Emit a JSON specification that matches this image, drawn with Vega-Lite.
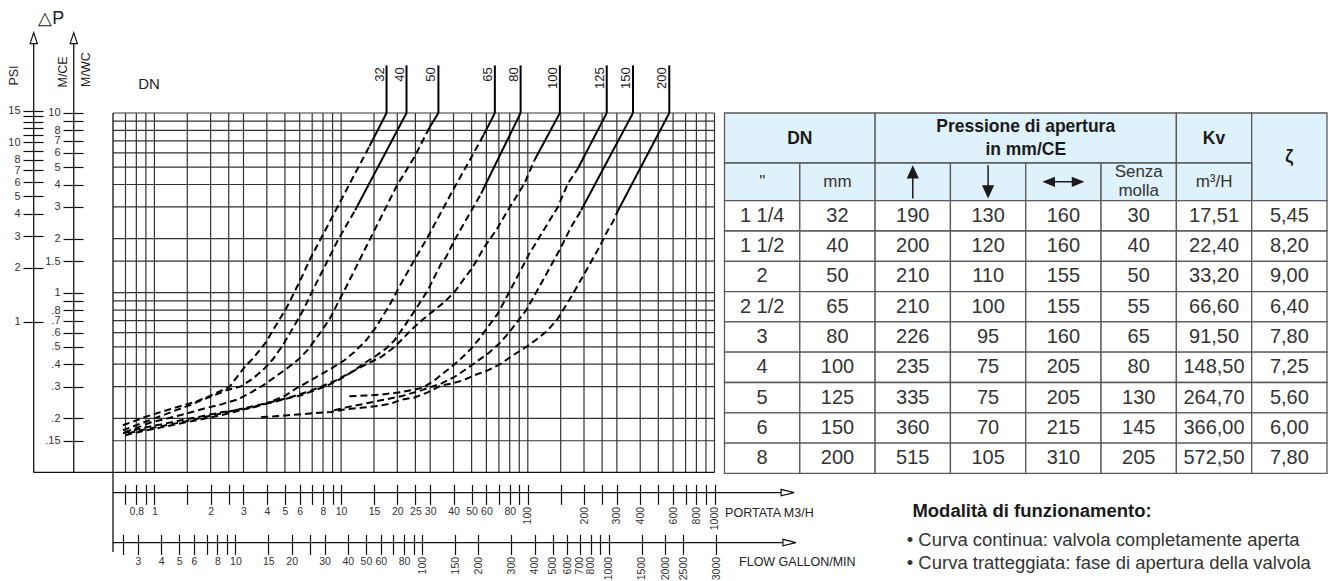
{
  "$schema": "https://vega.github.io/schema/vega-lite/v6.json",
  "background": "white",
  "padding": {"left": 7, "top": 10, "right": 0, "bottom": 0},
  "width": 1214,
  "height": 360.4,
  "config": {
    "font": "Liberation Sans",
    "view": {"stroke": null},
    "axis": {"labelFont": "Liberation Sans", "labelColor": "#333333", "labelFontSize": 10.5, "tickColor": "#111111", "tickWidth": 1.2, "labelOverlap": false, "labelFlush": false, "labelBound": false}
  },
  "datasets": {
    "gridx": [{"q":0.7},{"q":0.8},{"q":0.9},{"q":1},{"q":1.5},{"q":2},{"q":2.5},{"q":3},{"q":4},{"q":5},{"q":6},{"q":7},{"q":8},{"q":9},{"q":10},{"q":15},{"q":20},{"q":25},{"q":30},{"q":40},{"q":50},{"q":60},{"q":70},{"q":80},{"q":90},{"q":100},{"q":150},{"q":200},{"q":250},{"q":300},{"q":400},{"q":500},{"q":600},{"q":700},{"q":800},{"q":900},{"q":1000}],
    "gridy": [{"dp":0.15},{"dp":0.2},{"dp":0.3},{"dp":0.4},{"dp":0.5},{"dp":0.6},{"dp":0.7},{"dp":0.8},{"dp":0.9},{"dp":1},{"dp":1.5},{"dp":2},{"dp":3},{"dp":4},{"dp":5},{"dp":6},{"dp":7},{"dp":8},{"dp":9},{"dp":10}],
    "axlines": [
      {"q": 0.2256, "dp": 0.1, "q2": 0.2256, "dp2": 24.33},
      {"q": 0.3697, "dp": 0.1, "q2": 0.3697, "dp2": 24.33},
      {"q": 0.2256, "dp": 0.1, "q2": 1000, "dp2": 0.1},
      {"q": 0.6, "dp": 0.07719, "q2": 2274, "dp2": 0.07719},
      {"q": 0.6, "dp": 0.04068, "q2": 2322, "dp2": 0.04068},
      {"q": 0.6, "dp": 10, "q2": 0.6, "dp2": 0.03606}
    ],
    "arrowheads": [
      {"q": 0.2256, "dp": 26.1, "dir": "up"},
      {"q": 0.3697, "dp": 26.1, "dir": "up"},
      {"q": 2464, "dp": 0.07719, "dir": "right"},
      {"q": 2519, "dp": 0.04068, "dir": "right"}
    ],
    "dnkv": [
      {"dn": "32", "q": 17.51}, {"dn": "40", "q": 22.40}, {"dn": "50", "q": 33.20},
      {"dn": "65", "q": 66.60}, {"dn": "80", "q": 91.50}, {"dn": "100", "q": 148.50},
      {"dn": "125", "q": 264.70}, {"dn": "150", "q": 366.00}, {"dn": "200", "q": 572.50}
    ],
    "rotTitles": [
      {"q": 0.1772, "dp": 18.4, "t": "PSI"},
      {"q": 0.3243, "dp": 20.68, "t": "M/CE"},
      {"q": 0.4307, "dp": 21.77, "t": "M/WC"}
    ],
    "dnTitle": [{"q": 0.818, "dp": 13.55, "t": "DN"}],
    "dpTitle": [{"q": 0.2383, "dp": 31.2, "t": "△P"}],
    "flowTitles": [
      {"q": 1140, "dp": 0.0594, "t": "PORTATA M3/H"},
      {"q": 1354, "dp": 0.0317, "t": "FLOW GALLON/MIN"}
    ],
    "curves": [
      {"dn":"32","seg":"solid","q":17.51,"dp":10},{"dn":"32","seg":"solid","q":14.18,"dp":6.53},
      {"dn":"32","seg":"dashed","q":14.18,"dp":6.53},{"dn":"32","seg":"dashed","q":6.91,"dp":1.58},{"dn":"32","seg":"dashed","q":5.98,"dp":1.147},{"dn":"32","seg":"dashed","q":5.08,"dp":0.816},{"dn":"32","seg":"dashed","q":4.31,"dp":0.618},{"dn":"32","seg":"dashed","q":3.97,"dp":0.532},{"dn":"32","seg":"dashed","q":3.37,"dp":0.43},{"dn":"32","seg":"dashed","q":3.1,"dp":0.395},{"dn":"32","seg":"dashed","q":2.52,"dp":0.299},{"dn":"32","seg":"dashed","q":2.19,"dp":0.28},{"dn":"32","seg":"dashed","q":1.93,"dp":0.263},{"dn":"32","seg":"dashed","q":1.64,"dp":0.246},{"dn":"32","seg":"dashed","q":1.42,"dp":0.236},{"dn":"32","seg":"dashed","q":1.2,"dp":0.224},{"dn":"32","seg":"dashed","q":1.02,"dp":0.2125},{"dn":"32","seg":"dashed","q":0.884,"dp":0.203},{"dn":"32","seg":"dashed","q":0.781,"dp":0.193},{"dn":"32","seg":"dashed","q":0.677,"dp":0.183},
      {"dn":"40","seg":"solid","q":22.4,"dp":10},{"dn":"40","seg":"solid","q":11.88,"dp":2.874},
      {"dn":"40","seg":"dashed","q":11.88,"dp":2.874},{"dn":"40","seg":"dashed","q":9.6,"dp":1.957},{"dn":"40","seg":"dashed","q":8.14,"dp":1.39},{"dn":"40","seg":"dashed","q":7.19,"dp":1.076},{"dn":"40","seg":"dashed","q":6.26,"dp":0.798},{"dn":"40","seg":"dashed","q":5.47,"dp":0.626},{"dn":"40","seg":"dashed","q":4.87,"dp":0.51},{"dn":"40","seg":"dashed","q":4.31,"dp":0.426},{"dn":"40","seg":"dashed","q":3.85,"dp":0.375},{"dn":"40","seg":"dashed","q":3.37,"dp":0.333},{"dn":"40","seg":"dashed","q":2.91,"dp":0.301},{"dn":"40","seg":"dashed","q":2.42,"dp":0.286},{"dn":"40","seg":"dashed","q":2.1,"dp":0.269},{"dn":"40","seg":"dashed","q":1.78,"dp":0.252},{"dn":"40","seg":"dashed","q":1.54,"dp":0.236},{"dn":"40","seg":"dashed","q":1.31,"dp":0.222},{"dn":"40","seg":"dashed","q":1.11,"dp":0.208},{"dn":"40","seg":"dashed","q":0.94,"dp":0.195},{"dn":"40","seg":"dashed","q":0.798,"dp":0.183},{"dn":"40","seg":"dashed","q":0.677,"dp":0.1715},
      {"dn":"50","seg":"solid","q":33.2,"dp":10},{"dn":"50","seg":"solid","q":29.72,"dp":8.295},
      {"dn":"50","seg":"dashed","q":29.72,"dp":8.295},{"dn":"50","seg":"dashed","q":24.7,"dp":5.69},{"dn":"50","seg":"dashed","q":19.71,"dp":3.875},{"dn":"50","seg":"dashed","q":14.48,"dp":2.042},{"dn":"50","seg":"dashed","q":13.33,"dp":1.722},{"dn":"50","seg":"dashed","q":12.29,"dp":1.452},{"dn":"50","seg":"dashed","q":10.64,"dp":1.076},{"dn":"50","seg":"dashed","q":9.76,"dp":0.907},{"dn":"50","seg":"dashed","q":8.73,"dp":0.7205},{"dn":"50","seg":"dashed","q":7.63,"dp":0.587},{"dn":"50","seg":"dashed","q":6.66,"dp":0.484},{"dn":"50","seg":"dashed","q":5.92,"dp":0.426},{"dn":"50","seg":"dashed","q":5.18,"dp":0.382},{"dn":"50","seg":"dashed","q":4.43,"dp":0.34},{"dn":"50","seg":"dashed","q":3.82,"dp":0.305},{"dn":"50","seg":"dashed","q":3.3,"dp":0.279},{"dn":"50","seg":"dashed","q":2.8,"dp":0.255},{"dn":"50","seg":"dashed","q":2.28,"dp":0.239},{"dn":"50","seg":"dashed","q":1.85,"dp":0.227},{"dn":"50","seg":"dashed","q":1.57,"dp":0.216},{"dn":"50","seg":"dashed","q":1.335,"dp":0.2065},{"dn":"50","seg":"dashed","q":1.131,"dp":0.1975},{"dn":"50","seg":"dashed","q":0.96,"dp":0.19},{"dn":"50","seg":"dashed","q":0.815,"dp":0.178},{"dn":"50","seg":"dashed","q":0.691,"dp":0.167},
      {"dn":"65","seg":"solid","q":66.6,"dp":10},{"dn":"65","seg":"solid","q":58.13,"dp":7.58},
      {"dn":"65","seg":"dashed","q":58.13,"dp":7.58},{"dn":"65","seg":"dashed","q":47.71,"dp":5.228},{"dn":"65","seg":"dashed","q":38.84,"dp":3.561},{"dn":"65","seg":"dashed","q":29.13,"dp":2.042},{"dn":"65","seg":"dashed","q":25.22,"dp":1.58},{"dn":"65","seg":"dashed","q":20.96,"dp":1.124},{"dn":"65","seg":"dashed","q":18.14,"dp":0.851},{"dn":"65","seg":"dashed","q":15.4,"dp":0.644},{"dn":"65","seg":"dashed","q":13.61,"dp":0.543},{"dn":"65","seg":"dashed","q":11.78,"dp":0.468},{"dn":"65","seg":"dashed","q":10.41,"dp":0.4205},{"dn":"65","seg":"dashed","q":8.84,"dp":0.378},{"dn":"65","seg":"dashed","q":7.65,"dp":0.347},{"dn":"65","seg":"dashed","q":6.63,"dp":0.3185},{"dn":"65","seg":"dashed","q":5.74,"dp":0.293},{"dn":"65","seg":"dashed","q":5.08,"dp":0.269},{"dn":"65","seg":"dashed","q":4.39,"dp":0.252},{"dn":"65","seg":"dashed","q":3.73,"dp":0.236},{"dn":"65","seg":"dashed","q":3.17,"dp":0.2265},{"dn":"65","seg":"dashed","q":2.28,"dp":0.216},{"dn":"65","seg":"dashed","q":1.78,"dp":0.205},{"dn":"65","seg":"dashed","q":1.39,"dp":0.195},{"dn":"65","seg":"dashed","q":1.086,"dp":0.185},{"dn":"65","seg":"dashed","q":0.849,"dp":0.176},{"dn":"65","seg":"dashed","q":0.68,"dp":0.165},
      {"dn":"80","seg":"solid","q":91.5,"dp":10},{"dn":"80","seg":"solid","q":56.23,"dp":3.561},
      {"dn":"80","seg":"dashed","q":56.23,"dp":3.561},{"dn":"80","seg":"dashed","q":40.45,"dp":1.957},{"dn":"80","seg":"dashed","q":36.5,"dp":1.58},{"dn":"80","seg":"dashed","q":34.33,"dp":1.452},{"dn":"80","seg":"dashed","q":29.13,"dp":1.031},{"dn":"80","seg":"dashed","q":25.22,"dp":0.816},{"dn":"80","seg":"dashed","q":22.29,"dp":0.673},{"dn":"80","seg":"dashed","q":19.3,"dp":0.543},{"dn":"80","seg":"dashed","q":17.42,"dp":0.489},{"dn":"80","seg":"dashed","q":15.08,"dp":0.439},{"dn":"80","seg":"dashed","q":13.61,"dp":0.4115},{"dn":"80","seg":"dashed","q":11.78,"dp":0.37},{"dn":"80","seg":"dashed","q":10,"dp":0.333},{"dn":"80","seg":"dashed","q":8.49,"dp":0.305},{"dn":"80","seg":"dashed","q":7.19,"dp":0.286},{"dn":"80","seg":"dashed","q":6.11,"dp":0.269},{"dn":"80","seg":"dashed","q":5.08,"dp":0.257},{"dn":"80","seg":"dashed","q":4.31,"dp":0.246},{"dn":"80","seg":"dashed","q":3.65,"dp":0.236},{"dn":"80","seg":"dashed","q":2.91,"dp":0.222},{"dn":"80","seg":"dashed","q":2.28,"dp":0.208},{"dn":"80","seg":"dashed","q":1.78,"dp":0.1975},{"dn":"80","seg":"dashed","q":1.39,"dp":0.1876},{"dn":"80","seg":"dashed","q":1.086,"dp":0.178},{"dn":"80","seg":"dashed","q":0.849,"dp":0.169},{"dn":"80","seg":"dashed","q":0.697,"dp":0.161},
      {"dn":"100","seg":"solid","q":148.5,"dp":10},{"dn":"100","seg":"solid","q":108.5,"dp":5.455},
      {"dn":"100","seg":"dashed","q":108.5,"dp":5.455},{"dn":"100","seg":"dashed","q":95.9,"dp":4.046},{"dn":"100","seg":"dashed","q":78.15,"dp":2.874},{"dn":"100","seg":"dashed","q":67.64,"dp":2.225},{"dn":"100","seg":"dashed","q":58.55,"dp":1.796},{"dn":"100","seg":"dashed","q":50.75,"dp":1.39},{"dn":"100","seg":"dashed","q":40.45,"dp":1.009},{"dn":"100","seg":"dashed","q":35.76,"dp":0.8875},{"dn":"100","seg":"dashed","q":31.6,"dp":0.8},{"dn":"100","seg":"dashed","q":27.39,"dp":0.71},{"dn":"100","seg":"dashed","q":24.21,"dp":0.633},{"dn":"100","seg":"dashed","q":21.83,"dp":0.567},{"dn":"100","seg":"dashed","q":19.3,"dp":0.4985},{"dn":"100","seg":"dashed","q":16.38,"dp":0.4386},{"dn":"100","seg":"dashed","q":13.61,"dp":0.3995},{"dn":"100","seg":"dashed","q":11.31,"dp":0.3606},{"dn":"100","seg":"dashed","q":9.4,"dp":0.3254},{"dn":"100","seg":"dashed","q":7.81,"dp":0.2995},{"dn":"100","seg":"dashed","q":6.5,"dp":0.279},{"dn":"100","seg":"dashed","q":5.4,"dp":0.263},{"dn":"100","seg":"dashed","q":4.49,"dp":0.25},{"dn":"100","seg":"dashed","q":3.73,"dp":0.239},{"dn":"100","seg":"dashed","q":3.1,"dp":0.229},{"dn":"100","seg":"dashed","q":2.42,"dp":0.216},{"dn":"100","seg":"dashed","q":1.89,"dp":0.204},{"dn":"100","seg":"dashed","q":1.48,"dp":0.1925},{"dn":"100","seg":"dashed","q":1.155,"dp":0.183},{"dn":"100","seg":"dashed","q":0.903,"dp":0.174},{"dn":"100","seg":"dashed","q":0.723,"dp":0.165},
      {"dn":"125","seg":"solid","q":264.7,"dp":10},{"dn":"125","seg":"solid","q":185.3,"dp":4.905},
      {"dn":"125","seg":"dashed","q":185.3,"dp":4.905},{"dn":"125","seg":"dashed","q":163.8,"dp":4.046},{"dn":"125","seg":"dashed","q":144.8,"dp":2.999},{"dn":"125","seg":"dashed","q":102,"dp":1.651},{"dn":"125","seg":"dashed","q":83.12,"dp":1.099},{"dn":"125","seg":"dashed","q":69.08,"dp":0.765},{"dn":"125","seg":"dashed","q":61.06,"dp":0.644},{"dn":"125","seg":"dashed","q":55.06,"dp":0.5555},{"dn":"125","seg":"dashed","q":49.7,"dp":0.4886},{"dn":"125","seg":"dashed","q":43.93,"dp":0.43},{"dn":"125","seg":"dashed","q":38.84,"dp":0.386},{"dn":"125","seg":"dashed","q":31.6,"dp":0.3254},{"dn":"125","seg":"dashed","q":27.39,"dp":0.2963},{"dn":"125","seg":"dashed","q":23.71,"dp":0.2863},{"dn":"125","seg":"dashed","q":20.13,"dp":0.278},{"dn":"125","seg":"dashed","q":16.38,"dp":0.271},{"dn":"125","seg":"dashed","q":13.33,"dp":0.2676},{"dn":"125","seg":"dashed","q":11.08,"dp":0.2652},
      {"dn":"150","seg":"solid","q":366,"dp":10},{"dn":"150","seg":"solid","q":193,"dp":2.874},
      {"dn":"150","seg":"dashed","q":193,"dp":2.874},{"dn":"150","seg":"dashed","q":170.6,"dp":2.32},{"dn":"150","seg":"dashed","q":147.7,"dp":1.722},{"dn":"150","seg":"dashed","q":117.8,"dp":1.124},{"dn":"150","seg":"dashed","q":97.93,"dp":0.798},{"dn":"150","seg":"dashed","q":79.69,"dp":0.604},{"dn":"150","seg":"dashed","q":70.44,"dp":0.521},{"dn":"150","seg":"dashed","q":61.06,"dp":0.458},{"dn":"150","seg":"dashed","q":52.86,"dp":0.4115},{"dn":"150","seg":"dashed","q":45.76,"dp":0.37},{"dn":"150","seg":"dashed","q":40.45,"dp":0.3396},{"dn":"150","seg":"dashed","q":34.33,"dp":0.312},{"dn":"150","seg":"dashed","q":26.83,"dp":0.286},{"dn":"150","seg":"dashed","q":20.96,"dp":0.265},{"dn":"150","seg":"dashed","q":16.38,"dp":0.252},{"dn":"150","seg":"dashed","q":12.8,"dp":0.239},{"dn":"150","seg":"dashed","q":10.64,"dp":0.23},{"dn":"150","seg":"dashed","q":9.17,"dp":0.2216},
      {"dn":"200","seg":"solid","q":572.5,"dp":10},{"dn":"200","seg":"solid","q":303.4,"dp":2.849},
      {"dn":"200","seg":"dashed","q":303.4,"dp":2.849},{"dn":"200","seg":"dashed","q":285.3,"dp":2.474},{"dn":"200","seg":"dashed","q":268.2,"dp":2.225},{"dn":"200","seg":"dashed","q":241.8,"dp":1.796},{"dn":"200","seg":"dashed","q":201,"dp":1.277},{"dn":"200","seg":"dashed","q":170.6,"dp":0.946},{"dn":"200","seg":"dashed","q":144.8,"dp":0.718},{"dn":"200","seg":"dashed","q":128,"dp":0.618},{"dn":"200","seg":"dashed","q":113.1,"dp":0.5555},{"dn":"200","seg":"dashed","q":97.93,"dp":0.4985},{"dn":"200","seg":"dashed","q":83.12,"dp":0.448},{"dn":"200","seg":"dashed","q":71.94,"dp":0.403},{"dn":"200","seg":"dashed","q":61.06,"dp":0.37},{"dn":"200","seg":"dashed","q":51.76,"dp":0.347},{"dn":"200","seg":"dashed","q":44.86,"dp":0.325},{"dn":"200","seg":"dashed","q":38.84,"dp":0.312},{"dn":"200","seg":"dashed","q":34.33,"dp":0.305},{"dn":"200","seg":"dashed","q":29.13,"dp":0.279},{"dn":"200","seg":"dashed","q":24.7,"dp":0.261},{"dn":"200","seg":"dashed","q":20.96,"dp":0.254},{"dn":"200","seg":"dashed","q":18.53,"dp":0.2415},{"dn":"200","seg":"dashed","q":15.73,"dp":0.234},{"dn":"200","seg":"dashed","q":12.8,"dp":0.229},{"dn":"200","seg":"dashed","q":10.41,"dp":0.2236},{"dn":"200","seg":"dashed","q":8.84,"dp":0.217},{"dn":"200","seg":"dashed","q":7.19,"dp":0.214},{"dn":"200","seg":"dashed","q":6.11,"dp":0.2106},{"dn":"200","seg":"dashed","q":5.18,"dp":0.208},{"dn":"200","seg":"dashed","q":4.39,"dp":0.205},{"dn":"200","seg":"dashed","q":3.73,"dp":0.2034}
    ],
    "headCells": [
      {"c0": 0, "c1": 2, "r0": 0, "r1": 1.326},
      {"c0": 2, "c1": 6, "r0": 0, "r1": 1.326},
      {"c0": 6, "c1": 7, "r0": 0, "r1": 1.326},
      {"c0": 7, "c1": 8, "r0": 0, "r1": 2.326},
      {"c0": 0, "c1": 1, "r0": 1.326, "r1": 2.326},
      {"c0": 1, "c1": 2, "r0": 1.326, "r1": 2.326},
      {"c0": 2, "c1": 3, "r0": 1.326, "r1": 2.326},
      {"c0": 3, "c1": 4, "r0": 1.326, "r1": 2.326},
      {"c0": 4, "c1": 5, "r0": 1.326, "r1": 2.326},
      {"c0": 5, "c1": 6, "r0": 1.326, "r1": 2.326},
      {"c0": 6, "c1": 7, "r0": 1.326, "r1": 2.326}
    ],
    "headBold": [
      {"cx": 1, "cy": 0.69, "t": "DN"},
      {"cx": 4, "cy": 0.382, "t": ["Pressione di apertura", "in mm/CE"]},
      {"cx": 6.5, "cy": 0.7, "t": "Kv"},
      {"cx": 7.5, "cy": 1.163, "t": "ζ"}
    ],
    "headNorm": [
      {"cx": 0.5, "cy": 1.826, "t": "\""},
      {"cx": 1.5, "cy": 1.826, "t": "mm"},
      {"cx": 5.5, "cy": 1.576, "t": ["Senza", "molla"]},
      {"cx": 6.5, "cy": 1.826, "t": "m³/H"}
    ],
    "headArrows": [
      {"cx": 2.5, "cy": 1.826, "a": "up"},
      {"cx": 3.5, "cy": 1.826, "a": "down"},
      {"cx": 4.5, "cy": 1.826, "a": "lr"}
    ],
    "notesTitle": [{"cx": 2.495, "cy": 13.34, "t": "Modalità di funzionamento:"}],
    "notes": [
      {"cx": 2.42, "cy": 14.28, "t": "• Curva continua: valvola completamente aperta"},
      {"cx": 2.42, "cy": 15.06, "t": "• Curva tratteggiata: fase di apertura della valvola"}
    ],
    "body": [
      {"in": "1 1/4", "mm": "32", "up": "190", "down": "130", "lr": "160", "senza": "30", "kv": "17,51", "z": "5,45"},
      {"in": "1 1/2", "mm": "40", "up": "200", "down": "120", "lr": "160", "senza": "40", "kv": "22,40", "z": "8,20"},
      {"in": "2", "mm": "50", "up": "210", "down": "110", "lr": "155", "senza": "50", "kv": "33,20", "z": "9,00"},
      {"in": "2 1/2", "mm": "65", "up": "210", "down": "100", "lr": "155", "senza": "55", "kv": "66,60", "z": "6,40"},
      {"in": "3", "mm": "80", "up": "226", "down": "95", "lr": "160", "senza": "65", "kv": "91,50", "z": "7,80"},
      {"in": "4", "mm": "100", "up": "235", "down": "75", "lr": "205", "senza": "80", "kv": "148,50", "z": "7,25"},
      {"in": "5", "mm": "125", "up": "335", "down": "75", "lr": "205", "senza": "130", "kv": "264,70", "z": "5,60"},
      {"in": "6", "mm": "150", "up": "360", "down": "70", "lr": "215", "senza": "145", "kv": "366,00", "z": "6,00"},
      {"in": "8", "mm": "200", "up": "515", "down": "105", "lr": "310", "senza": "205", "kv": "572,50", "z": "7,80"}
    ]
  },
  "resolve": {"scale": {"x": "independent", "y": "independent", "shape": "independent"}},
  "layer": [
    {"data": {"name": "gridx"}, "mark": {"type": "rule", "color": "#333333", "strokeWidth": 1.2},
      "encoding": {
        "x": {"field": "q", "type": "quantitative", "scale": {"type": "log", "domain": [0.6, 1000], "range": [0, 601.5], "nice": false}, "axis": null},
        "y": {"datum": 0.1, "type": "quantitative", "scale": {"type": "log", "domain": [0.1, 10], "range": [359.4, 0], "nice": false}, "axis": null},
        "y2": {"datum": 10}}},
    {"data": {"name": "gridy"}, "mark": {"type": "rule", "color": "#333333", "strokeWidth": 1.2},
      "encoding": {
        "x": {"datum": 0.6, "type": "quantitative", "scale": {"type": "log", "domain": [0.6, 1000], "range": [0, 601.5], "nice": false}, "axis": null},
        "x2": {"datum": 1000},
        "y": {"field": "dp", "type": "quantitative", "scale": {"type": "log", "domain": [0.1, 10], "range": [359.4, 0], "nice": false}, "axis": null}}},
    {"data": {"name": "axlines"}, "mark": {"type": "rule", "color": "#111111", "strokeWidth": 1.3},
      "encoding": {
        "x": {"field": "q", "type": "quantitative", "scale": {"type": "log", "domain": [0.6, 1000], "range": [0, 601.5], "nice": false}, "axis": null},
        "y": {"field": "dp", "type": "quantitative", "scale": {"type": "log", "domain": [0.1, 10], "range": [359.4, 0], "nice": false}, "axis": null},
        "x2": {"field": "q2"}, "y2": {"field": "dp2"}}},
    {"data": {"name": "dnkv"}, "mark": {"type": "rule", "color": "#000000", "strokeWidth": 2},
      "encoding": {
        "x": {"field": "q", "type": "quantitative", "scale": {"type": "log", "domain": [0.6, 1000], "range": [0, 601.5], "nice": false}, "axis": null},
        "y": {"datum": 10, "type": "quantitative", "scale": {"type": "log", "domain": [0.1, 10], "range": [359.4, 0], "nice": false}, "axis": null},
        "y2": {"datum": 18.4}}},
    {"data": {"name": "curves"}, "mark": {"type": "line", "color": "#000000", "strokeWidth": 2},
      "encoding": {
        "x": {"field": "q", "type": "quantitative", "scale": {"type": "log", "domain": [0.6, 1000], "range": [0, 601.5], "nice": false}, "axis": null},
        "y": {"field": "dp", "type": "quantitative", "scale": {"type": "log", "domain": [0.1, 10], "range": [359.4, 0], "nice": false}, "axis": null},
        "detail": {"field": "dn", "type": "nominal"},
        "strokeDash": {"field": "seg", "type": "nominal", "scale": {"domain": ["solid", "dashed"], "range": [[1, 0], [7, 4]]}, "legend": null}}},
    {"data": {"name": "dnkv"}, "mark": {"type": "text", "angle": 270, "align": "right", "baseline": "bottom", "fontSize": 13, "color": "#222222"},
      "encoding": {
        "x": {"field": "q", "type": "quantitative", "scale": {"type": "log", "domain": [0.6, 1000], "range": [0, 601.5], "nice": false}, "axis": null},
        "y": {"datum": 17.96, "type": "quantitative", "scale": {"type": "log", "domain": [0.1, 10], "range": [359.4, 0], "nice": false}, "axis": null},
        "text": {"field": "dn"}}},
    {"data": {"name": "arrowheads"}, "mark": {"type": "point", "filled": true, "fill": "white", "stroke": "#111111", "strokeWidth": 1.2, "size": 144, "opacity": 1},
      "encoding": {
        "x": {"field": "q", "type": "quantitative", "scale": {"type": "log", "domain": [0.6, 1000], "range": [0, 601.5], "nice": false}, "axis": null},
        "y": {"field": "dp", "type": "quantitative", "scale": {"type": "log", "domain": [0.1, 10], "range": [359.4, 0], "nice": false}, "axis": null},
        "shape": {"field": "dir", "type": "nominal", "scale": {"domain": ["up", "right"], "range": ["M0,-0.92L0.6,0.92L-0.6,0.92Z", "M1.08,0L-1.08,0.54L-1.08,-0.54Z"]}, "legend": null}}},
    {"data": {"name": "rotTitles"}, "mark": {"type": "text", "angle": 270, "align": "right", "baseline": "middle", "fontSize": 12.5, "color": "#222222"},
      "encoding": {
        "x": {"field": "q", "type": "quantitative", "scale": {"type": "log", "domain": [0.6, 1000], "range": [0, 601.5], "nice": false}, "axis": null},
        "y": {"field": "dp", "type": "quantitative", "scale": {"type": "log", "domain": [0.1, 10], "range": [359.4, 0], "nice": false}, "axis": null},
        "text": {"field": "t"}}},
    {"data": {"name": "dnTitle"}, "mark": {"type": "text", "align": "left", "baseline": "alphabetic", "fontSize": 15, "color": "#222222"},
      "encoding": {
        "x": {"field": "q", "type": "quantitative", "scale": {"type": "log", "domain": [0.6, 1000], "range": [0, 601.5], "nice": false}, "axis": null},
        "y": {"field": "dp", "type": "quantitative", "scale": {"type": "log", "domain": [0.1, 10], "range": [359.4, 0], "nice": false}, "axis": null},
        "text": {"field": "t"}}},
    {"data": {"name": "dpTitle"}, "mark": {"type": "text", "align": "left", "baseline": "alphabetic", "fontSize": 18, "color": "#222222"},
      "encoding": {
        "x": {"field": "q", "type": "quantitative", "scale": {"type": "log", "domain": [0.6, 1000], "range": [0, 601.5], "nice": false}, "axis": null},
        "y": {"field": "dp", "type": "quantitative", "scale": {"type": "log", "domain": [0.1, 10], "range": [359.4, 0], "nice": false}, "axis": null},
        "text": {"field": "t"}}},
    {"data": {"name": "flowTitles"}, "mark": {"type": "text", "align": "left", "baseline": "middle", "fontSize": 12.5, "color": "#222222"},
      "encoding": {
        "x": {"field": "q", "type": "quantitative", "scale": {"type": "log", "domain": [0.6, 1000], "range": [0, 601.5], "nice": false}, "axis": null},
        "y": {"field": "dp", "type": "quantitative", "scale": {"type": "log", "domain": [0.1, 10], "range": [359.4, 0], "nice": false}, "axis": null},
        "text": {"field": "t"}}},
    {
      "data": {"values": [{"psi": 1}, {"psi": 10}]},
      "mark": {"type": "point", "opacity": 0},
      "encoding": {
        "y": {"field": "psi", "type": "quantitative", "scale": {"type": "log", "domain": [0.14556, 15.2], "range": [359.4, -3.38], "nice": false},
          "axis": {"orient": "left", "offset": 70, "values": [15,14,13,12,11,10,9,8,7,6,5,4,3,2,1], "tickSize": 20, "domain": false, "grid": false, "title": null, "labelPadding": 3, "labelFontSize": 11,
            "labelExpr": "indexof([15,10,8,7,6,5,4,3,2,1], datum.value) >= 0 ? format(datum.value, '~g') : ''"}}
      }
    },
    {
      "data": {"values": [{"m": 1}, {"m": 10}]},
      "mark": {"type": "point", "opacity": 0},
      "encoding": {
        "y": {"field": "m", "type": "quantitative", "scale": {"type": "log", "domain": [0.1, 10], "range": [359.4, 0], "nice": false},
          "axis": {"orient": "left", "offset": 30, "values": [10,9,8,7,6,5,4,3,2,1.5,1,0.9,0.8,0.7,0.6,0.5,0.4,0.3,0.2,0.15], "tickSize": 20, "domain": false, "grid": false, "title": null, "labelPadding": 3, "labelFontSize": 11,
            "labelExpr": "datum.value == 9 || datum.value == 0.9 ? '' : (datum.value < 1 ? '.' + substring(format(datum.value, '~g'), 2) : format(datum.value, '~g'))"}}
      }
    },
    {
      "data": {"values": [{"m3h": 1}, {"m3h": 100}]},
      "mark": {"type": "point", "opacity": 0},
      "encoding": {
        "x": {"field": "m3h", "type": "quantitative", "scale": {"type": "log", "domain": [0.6, 1000], "range": [0, 601.5], "nice": false},
          "axis": {"orient": "bottom", "offset": 11, "values": [0.7,0.8,0.9,1,1.5,2,2.5,3,4,5,6,7,8,9,10,15,20,25,30,40,50,60,70,80,90], "tickSize": 20, "domain": false, "grid": false, "title": null, "labelPadding": 2,
            "labelExpr": "indexof([0.8,1,2,3,4,5,6,8,10,15,20,25,30,40,50,60,80], datum.value) >= 0 ? (datum.value == 0.8 ? '0,8' : format(datum.value, '~g')) : ''"}}
      }
    },
    {
      "data": {"values": [{"m3h": 100}, {"m3h": 1000}]},
      "mark": {"type": "point", "opacity": 0},
      "encoding": {
        "x": {"field": "m3h", "type": "quantitative", "scale": {"type": "log", "domain": [0.6, 1000], "range": [0, 601.5], "nice": false},
          "axis": {"orient": "bottom", "offset": 11, "values": [100,150,200,250,300,400,500,600,700,800,900,1000], "tickSize": 20, "domain": false, "grid": false, "title": null, "labelPadding": 2, "labelAngle": 270,
            "labelExpr": "indexof([100,200,300,400,600,800,1000], datum.value) >= 0 ? format(datum.value, '~g') : ''"}}
      }
    },
    {
      "data": {"values": [{"gpm": 10}, {"gpm": 50}]},
      "mark": {"type": "point", "opacity": 0},
      "encoding": {
        "x": {"field": "gpm", "type": "quantitative", "scale": {"type": "log", "domain": [2.2091, 3800], "range": [0, 604.06], "nice": false},
          "axis": {"orient": "bottom", "offset": 61, "values": [2.5,3,4,5,6,7,8,9,10,15,20,25,30,40,50,60,70,80,90], "tickSize": 20, "domain": false, "grid": false, "title": null, "labelPadding": 2,
            "labelExpr": "indexof([2.5,7,9,25,70,90], datum.value) >= 0 ? '' : format(datum.value, '~g')"}}
      }
    },
    {
      "data": {"values": [{"gpm": 100}, {"gpm": 1000}]},
      "mark": {"type": "point", "opacity": 0},
      "encoding": {
        "x": {"field": "gpm", "type": "quantitative", "scale": {"type": "log", "domain": [2.2091, 3800], "range": [0, 604.06], "nice": false},
          "axis": {"orient": "bottom", "offset": 61, "values": [100,150,200,300,400,500,600,700,800,900,1000,1500,2000,2500,3755], "tickSize": 20, "domain": false, "grid": false, "title": null, "labelPadding": 2, "labelAngle": 270,
            "labelExpr": "datum.value > 3500 ? '3000' : (datum.value == 900 ? '' : format(datum.value, '~g'))"}}
      }
    },
    {"data": {"name": "headCells"}, "mark": {"type": "rect", "fill": "#dff1fa", "stroke": "#5a5a5a", "strokeWidth": 1.3},
      "encoding": {
        "x": {"field": "c0", "type": "quantitative", "scale": {"domain": [0, 8], "range": [611.5, 1214], "nice": false, "zero": false}, "axis": null},
        "x2": {"field": "c1"},
        "y": {"field": "r0", "type": "quantitative", "scale": {"domain": [0, 2.326], "range": [0, 87.7], "nice": false, "zero": false}, "axis": null},
        "y2": {"field": "r1"}}},
    {"data": {"name": "headBold"}, "mark": {"type": "text", "fontWeight": "bold", "fontSize": 17.5, "color": "#1a1a1a", "lineHeight": 23, "baseline": "middle"},
      "encoding": {
        "x": {"field": "cx", "type": "quantitative", "scale": {"domain": [0, 8], "range": [611.5, 1214], "nice": false, "zero": false}, "axis": null},
        "y": {"field": "cy", "type": "quantitative", "scale": {"domain": [0, 2.326], "range": [0, 87.7], "nice": false, "zero": false}, "axis": null},
        "text": {"field": "t"}}},
    {"data": {"name": "headNorm"}, "mark": {"type": "text", "fontSize": 17, "color": "#333333", "lineHeight": 18.5, "baseline": "middle"},
      "encoding": {
        "x": {"field": "cx", "type": "quantitative", "scale": {"domain": [0, 8], "range": [611.5, 1214], "nice": false, "zero": false}, "axis": null},
        "y": {"field": "cy", "type": "quantitative", "scale": {"domain": [0, 2.326], "range": [0, 87.7], "nice": false, "zero": false}, "axis": null},
        "text": {"field": "t"}}},
    {"data": {"name": "headArrows"}, "mark": {"type": "point", "filled": true, "fill": "#1a1a1a", "strokeWidth": 0, "size": 1764, "opacity": 1},
      "encoding": {
        "x": {"field": "cx", "type": "quantitative", "scale": {"domain": [0, 8], "range": [611.5, 1214], "nice": false, "zero": false}, "axis": null},
        "y": {"field": "cy", "type": "quantitative", "scale": {"domain": [0, 2.326], "range": [0, 87.7], "nice": false, "zero": false}, "axis": null},
        "shape": {"field": "a", "type": "nominal", "scale": {"domain": ["up", "down", "lr"], "range": [
          "M0,-0.79L0.29,-0.16L0.035,-0.16L0.035,0.79L-0.035,0.79L-0.035,-0.16L-0.29,-0.16Z",
          "M0,0.79L0.29,0.16L0.035,0.16L0.035,-0.79L-0.035,-0.79L-0.035,0.16L-0.29,0.16Z",
          "M-1,0L-0.4,-0.24L-0.4,-0.035L0.4,-0.035L0.4,-0.24L1,0L0.4,0.24L0.4,0.035L-0.4,0.035L-0.4,0.24Z"]}, "legend": null}}},
    {"data": {"name": "body"},
      "transform": [{"fold": ["in", "mm", "up", "down", "lr", "senza", "kv", "z"], "as": ["col", "val"]}],
      "mark": {"type": "rect", "fill": "white", "stroke": "#5a5a5a", "strokeWidth": 1.3},
      "encoding": {
        "x": {"field": "col", "type": "nominal", "scale": {"domain": ["in", "mm", "up", "down", "lr", "senza", "kv", "z"], "range": [611.5, 1214], "paddingInner": 0, "paddingOuter": 0}, "axis": null},
        "y": {"field": "in", "type": "nominal", "scale": {"domain": ["1 1/4", "1 1/2", "2", "2 1/2", "3", "4", "5", "6", "8"], "range": [87.7, 360.4], "paddingInner": 0, "paddingOuter": 0}, "axis": null}}},
    {"data": {"name": "body"},
      "transform": [{"fold": ["in", "mm", "up", "down", "lr", "senza", "kv", "z"], "as": ["col", "val"]}],
      "mark": {"type": "text", "font": "Liberation Sans", "fontSize": 20, "color": "#333333"},
      "encoding": {
        "x": {"field": "col", "type": "nominal", "scale": {"domain": ["in", "mm", "up", "down", "lr", "senza", "kv", "z"], "range": [611.5, 1214], "paddingInner": 0, "paddingOuter": 0}, "axis": null},
        "y": {"field": "in", "type": "nominal", "scale": {"domain": ["1 1/4", "1 1/2", "2", "2 1/2", "3", "4", "5", "6", "8"], "range": [87.7, 360.4], "paddingInner": 0, "paddingOuter": 0}, "axis": null},
        "text": {"field": "val"}}},
    {"data": {"name": "notesTitle"}, "mark": {"type": "text", "align": "left", "baseline": "alphabetic", "fontWeight": "bold", "fontSize": 18.5, "color": "#1a1a1a"},
      "encoding": {
        "x": {"field": "cx", "type": "quantitative", "scale": {"domain": [0, 8], "range": [611.5, 1214], "nice": false, "zero": false}, "axis": null},
        "y": {"field": "cy", "type": "quantitative", "scale": {"domain": [0, 11.894], "range": [0, 360.4], "nice": false, "zero": false}, "axis": null},
        "text": {"field": "t"}}},
    {"data": {"name": "notes"}, "mark": {"type": "text", "align": "left", "baseline": "alphabetic", "fontSize": 18.5, "color": "#333333"},
      "encoding": {
        "x": {"field": "cx", "type": "quantitative", "scale": {"domain": [0, 8], "range": [611.5, 1214], "nice": false, "zero": false}, "axis": null},
        "y": {"field": "cy", "type": "quantitative", "scale": {"domain": [0, 11.894], "range": [0, 360.4], "nice": false, "zero": false}, "axis": null},
        "text": {"field": "t"}}}
  ]
}
